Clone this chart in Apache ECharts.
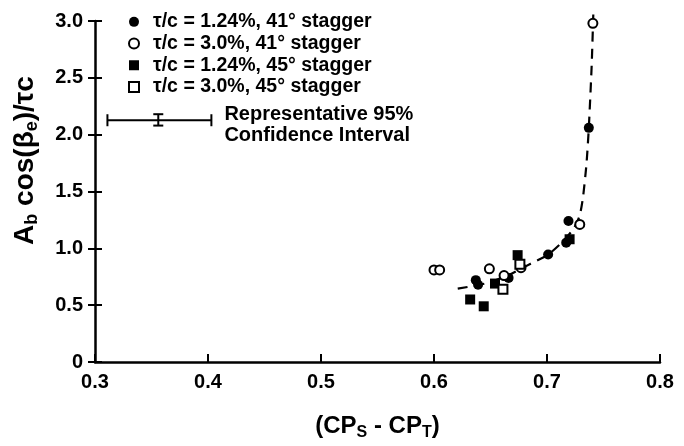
<!DOCTYPE html>
<html><head><meta charset="utf-8">
<script src="https://cdn.jsdelivr.net/npm/echarts@6/dist/echarts.min.js"></script>
<style>html,body{margin:0;padding:0;background:#fff}#c{width:684px;height:446px}</style>
</head><body><div id="c"></div>
<script>
const xTicks = [0.3, 0.4, 0.5, 0.6, 0.7, 0.8];
const yTicks = [0, 0.5, 1.0, 1.5, 2.0, 2.5, 3.0];
const seriesNames = ['τ/c = 1.24%, 41° stagger', 'τ/c = 3.0%, 41° stagger', 'τ/c = 1.24%, 45° stagger', 'τ/c = 3.0%, 45° stagger'];
const filled41 = [[0.637,0.72],[0.639,0.68],[0.666,0.74],[0.701,0.945],[0.719,1.24],[0.717,1.05],[0.737,2.06]];
const open41 = [[0.600,0.81],[0.605,0.81],[0.649,0.82],[0.677,0.83],[0.662,0.76],[0.729,1.21],[0.7406,2.98]];
const filled45 = [[0.632,0.55],[0.644,0.49],[0.654,0.69],[0.674,0.94],[0.720,1.08]];
const open45 = [[0.661,0.64],[0.676,0.86]];
const fitCurve = [[0.621,0.645],[0.647,0.694],[0.666,0.765],[0.6855,0.865],[0.701,0.945],[0.7145,1.065],[0.724,1.18],[0.729,1.29],[0.732,1.46],[0.735,1.75],[0.737,2.06],[0.7395,2.6],[0.741,3.07]];
const ciXRange = [0.311, 0.403];
const ciYRange = [2.08, 2.18];
const ciCenter = [0.356, 2.127];
const ciText = 'Representative 95%\nConfidence Interval';

const font = 'Liberation Sans, Arial, sans-serif';
const chart = echarts.init(document.getElementById('c'));
const tickLabel = {fontFamily: font, fontSize: 20, fontWeight: 'bold', color: '#000'};
chart.setOption({
  animation: false,
  grid: {left: 95, right: 24, top: 21, bottom: 75},
  legend: {
    orient: 'vertical', left: 123, top: 6, itemGap: 0, itemWidth: 10, itemHeight: 10,
    data: seriesNames,
    textStyle: {fontFamily: font, fontSize: 19.5, fontWeight: 'bold', color: '#000', lineHeight: 21.7, padding: [0,0,0,9]}
  },
  xAxis: {
    type: 'value', min: 0.3, max: 0.8, interval: 0.1,
    name: '{a|(CP}{s|S}{a| - CP}{s|T}{a|)}', nameLocation: 'middle', nameGap: 50,
    nameTextStyle: {rich: {a: {fontFamily: font, fontSize: 24, fontWeight: 'bold', color: '#000'}, s: {fontFamily: font, fontSize: 16, fontWeight: 'bold', color: '#000', padding: [13,0,0,0]}}},
    axisLine: {lineStyle: {color: '#000', width: 2.5}},
    axisTick: {inside: true, length: 8, lineStyle: {color: '#000', width: 2}},
    axisLabel: Object.assign({margin: 10, formatter: v => xTicks.includes(+v.toFixed(1)) ? v.toFixed(1) : ''}, tickLabel),
    splitLine: {show: false}
  },
  yAxis: [{
    type: 'value', min: 0, max: 3, interval: 0.5,
    name: '{a|A}{s|b}{a| cos(β}{s|e}{a|)/τc}', nameLocation: 'middle', nameGap: 54, nameRotate: 90,
    nameTextStyle: {padding: [0,0,0,62], rich: {a: {fontFamily: font, fontSize: 28, fontWeight: 'bold', color: '#000'}, s: {fontFamily: font, fontSize: 18, fontWeight: 'bold', color: '#000', padding: [14,0,0,0]}}},
    axisLine: {show: true, lineStyle: {color: '#000', width: 2.5}},
    axisTick: {show: true, length: 7, lineStyle: {color: '#000', width: 2}},
    axisLabel: Object.assign({margin: 12, formatter: v => yTicks.includes(v) ? (v === 0 ? '0' : v.toFixed(1)) : ''}, tickLabel),
    splitLine: {show: false}
  }, {
    type: 'value', min: 0, max: 3, interval: 0.5, position: 'left',
    axisLine: {show: false}, axisLabel: {show: false}, splitLine: {show: false},
    axisTick: {show: true, inside: true, length: 7, lineStyle: {color: '#000', width: 2}}
  }],
  series: [
    {name: 'fit', type: 'line', data: fitCurve, smooth: 0.2, symbol: 'none', clip: false,
     lineStyle: {color: '#000', width: 2.2, type: [10,7]}, z: 1},
    {name: seriesNames[0], type: 'scatter', data: filled41, symbol: 'circle', symbolSize: 10,
     itemStyle: {color: '#000', opacity: 1}, z: 3},
    {name: seriesNames[1], type: 'scatter', data: open41, symbol: 'circle', symbolSize: 9,
     itemStyle: {color: '#fff', borderColor: '#000', borderWidth: 2, opacity: 1}, z: 3},
    {name: seriesNames[2], type: 'scatter', data: filled45, symbol: 'rect', symbolSize: 10,
     itemStyle: {color: '#000', opacity: 1}, z: 3},
    {name: seriesNames[3], type: 'scatter', data: open45, symbol: 'rect', symbolSize: 9,
     itemStyle: {color: '#fff', borderColor: '#000', borderWidth: 2, opacity: 1}, z: 3},
    {name: 'ci', type: 'custom', z: 2,
     data: [[ciXRange[0], ciXRange[1], ciYRange[0], ciYRange[1], ciCenter[0], ciCenter[1]]],
     renderItem: function (params, api) {
       const a = api.coord([api.value(0), api.value(5)]);
       const b = api.coord([api.value(1), api.value(5)]);
       const t = api.coord([api.value(4), api.value(3)]);
       const m = api.coord([api.value(4), api.value(2)]);
       const st = {stroke: '#000', lineWidth: 2, fill: null};
       const cap = 6, c2 = 5;
       return {type: 'group', children: [
         {type: 'line', shape: {x1: a[0], y1: a[1], x2: b[0], y2: b[1]}, style: st},
         {type: 'line', shape: {x1: a[0], y1: a[1]-cap, x2: a[0], y2: a[1]+cap}, style: st},
         {type: 'line', shape: {x1: b[0], y1: b[1]-cap, x2: b[0], y2: b[1]+cap}, style: st},
         {type: 'line', shape: {x1: t[0], y1: t[1], x2: m[0], y2: m[1]}, style: st},
         {type: 'line', shape: {x1: t[0]-c2, y1: t[1], x2: t[0]+c2, y2: t[1]}, style: st},
         {type: 'line', shape: {x1: m[0]-c2, y1: m[1], x2: m[0]+c2, y2: m[1]}, style: st},
         {type: 'text', x: b[0] + 13, y: b[1] + 5, style: {text: ciText, font: 'bold 20px ' + font, fill: '#000', verticalAlign: 'middle', lineHeight: 21}}
       ]};
     }}
  ]
});
</script></body></html>
